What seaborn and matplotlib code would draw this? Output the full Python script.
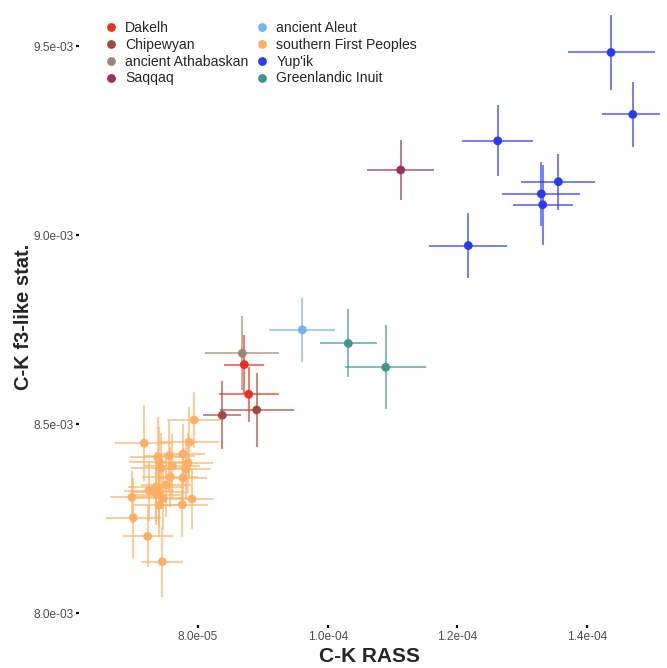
import matplotlib
matplotlib.use("Agg")
import matplotlib.pyplot as plt
import matplotlib.ticker as mticker
import pandas as pd
import seaborn as sns

# Population order (legend fills column by column) and colours
populations = ["Dakelh", "Chipewyan", "ancient Athabaskan", "Saqqaq",
               "ancient Aleut", "southern First Peoples", "Yup'ik", "Greenlandic Inuit"]
colors = ["#E8311D", "#A24A3E", "#9E8672", "#9A2F60",
          "#78AFEE", "#FDB064", "#2A3AF3", "#3E968F"]

# One entry per sample: population, C-K RASS (+/- error), C-K f3-like statistic (+/- error)
group = (["Dakelh"] * 2 + ["Chipewyan"] * 2 + ["ancient Athabaskan"] + ["Saqqaq"]
         + ["ancient Aleut"] + ["Greenlandic Inuit"] * 2 + ["Yup'ik"] * 7
         + ["southern First Peoples"] * 26)

rass = [8.715e-5, 8.783e-5,
        8.376e-5, 8.906e-5,
        8.684e-5,
        1.1125e-4,
        9.609e-5,
        1.0318e-4, 1.0894e-4,
        1.4366e-4, 1.4700e-4, 1.2620e-4, 1.3554e-4, 1.3292e-4, 1.3313e-4, 1.2167e-4,
        7.944e-5, 7.174e-5, 7.867e-5, 7.381e-5, 7.559e-5, 7.770e-5, 7.405e-5,
        7.847e-5, 7.606e-5, 7.431e-5, 7.817e-5, 7.575e-5, 7.770e-5, 7.508e-5,
        7.350e-5, 7.246e-5, 7.401e-5, 7.359e-5, 6.984e-5, 7.467e-5, 7.909e-5,
        7.405e-5, 7.760e-5, 7.005e-5, 7.226e-5, 7.451e-5]

rass_err = [3.1e-6, 4.6e-6,
            2.9e-6, 5.7e-6,
            5.7e-6,
            5.2e-6,
            5.1e-6,
            4.4e-6, 6.2e-6,
            6.7e-6, 4.8e-6, 5.5e-6, 5.7e-6, 6.0e-6, 4.6e-6, 6.0e-6,
            4.2e-6, 4.5e-6, 4.6e-6, 4.3e-6, 3.9e-6, 3.4e-6, 4.6e-6,
            3.9e-6, 4.3e-6, 4.6e-6, 3.9e-6, 4.3e-6, 3.7e-6, 3.9e-6,
            4.3e-6, 3.9e-6, 4.3e-6, 4.0e-6, 3.4e-6, 4.3e-6, 3.4e-6,
            3.9e-6, 3.9e-6, 4.2e-6, 4.0e-6, 3.2e-6]

f3 = [8.658e-3, 8.5795e-3,
      8.524e-3, 8.538e-3,
      8.688e-3,
      9.173e-3,
      8.750e-3,
      8.714e-3, 8.651e-3,
      9.484e-3, 9.320e-3, 9.250e-3, 9.142e-3, 9.110e-3, 9.081e-3, 8.973e-3,
      8.5115e-3, 8.4498e-3, 8.4525e-3, 8.4128e-3, 8.4170e-3, 8.4215e-3, 8.4011e-3,
      8.3985e-3, 8.3905e-3, 8.3837e-3, 8.3810e-3, 8.3606e-3, 8.3580e-3, 8.3395e-3,
      8.3334e-3, 8.3244e-3, 8.3217e-3, 8.3130e-3, 8.3069e-3, 8.3043e-3, 8.3024e-3,
      8.2858e-3, 8.2873e-3, 8.2529e-3, 8.2037e-3, 8.1365e-3]

f3_err = [7.9e-5, 7.3e-5,
          9.0e-5, 9.8e-5,
          9.8e-5,
          7.9e-5,
          8.5e-5,
          9.0e-5, 1.11e-4,
          1.0e-4, 8.7e-5, 9.4e-5, 7.4e-5, 8.5e-5, 1.06e-4, 8.5e-5,
          7.4e-5, 1.01e-4, 9.3e-5, 1.06e-4, 9.3e-5, 7.9e-5, 9.3e-5,
          7.9e-5, 8.5e-5, 9.3e-5, 7.9e-5, 7.9e-5, 7.9e-5, 8.5e-5,
          9.3e-5, 7.9e-5, 9.3e-5, 7.9e-5, 6.9e-5, 8.5e-5, 7.9e-5,
          8.5e-5, 8.5e-5, 1.06e-4, 8.2e-5, 9.3e-5]

df = pd.DataFrame({"population": group, "rass": rass, "rass_err": rass_err,
                   "f3": f3, "f3_err": f3_err})
palette = dict(zip(populations, colors))

sns.set_theme(style="white")
plt.rcParams["font.family"] = ["Liberation Sans", "DejaVu Sans"]

fig = plt.figure(figsize=(6.67, 6.68), dpi=100)
ax = fig.add_axes([0.1184, 0.0644, 0.8711, 0.9236])

# Error bars (both directions) beneath the points
for pop_name in populations:
    sub = df[df["population"] == pop_name]
    ax.errorbar(sub["rass"], sub["f3"], xerr=sub["rass_err"], yerr=sub["f3_err"],
                fmt="none", ecolor=palette[pop_name], elinewidth=1.3, alpha=0.7,
                capsize=0, zorder=1)

sns.scatterplot(data=df, x="rass", y="f3", hue="population", hue_order=populations,
                palette=palette, s=40, linewidth=0, ax=ax, zorder=3)

ax.set_xlim(6.168e-5, 1.512e-4)
ax.set_ylim(7.969e-3, 9.6016e-3)
ax.xaxis.set_major_locator(mticker.FixedLocator([8e-5, 1e-4, 1.2e-4, 1.4e-4]))
ax.yaxis.set_major_locator(mticker.FixedLocator([8.0e-3, 8.5e-3, 9.0e-3, 9.5e-3]))
ax.xaxis.set_major_formatter(mticker.FuncFormatter(lambda v, p: f"{v:.1e}"))
ax.yaxis.set_major_formatter(mticker.FuncFormatter(lambda v, p: f"{v:.1e}"))
ax.tick_params(axis="both", which="major", length=2, width=1.6, color="black",
               labelsize=8.6, labelcolor="#4D4D4D", pad=2, direction="out")
ax.xaxis.set_ticks_position("bottom")
ax.yaxis.set_ticks_position("left")
for sp in ax.spines.values():
    sp.set_visible(False)
ax.grid(False)

ax.set_xlabel("C-K RASS", fontsize=15, fontweight="bold", labelpad=3)
ax.set_ylabel("C-K f3-like stat.", fontsize=14.5, fontweight="bold", labelpad=0)

handles, labels = ax.get_legend_handles_labels()
ax.legend(handles, labels, loc="upper left", bbox_to_anchor=(0.141, 0.979),
          bbox_transform=fig.transFigure, ncol=2, frameon=False,
          fontsize=10.1, handletextpad=0.3, columnspacing=0.3, labelspacing=0.2,
          markerscale=1.0, borderpad=0, handlelength=1.4)

fig.savefig("out.png", dpi=100)
